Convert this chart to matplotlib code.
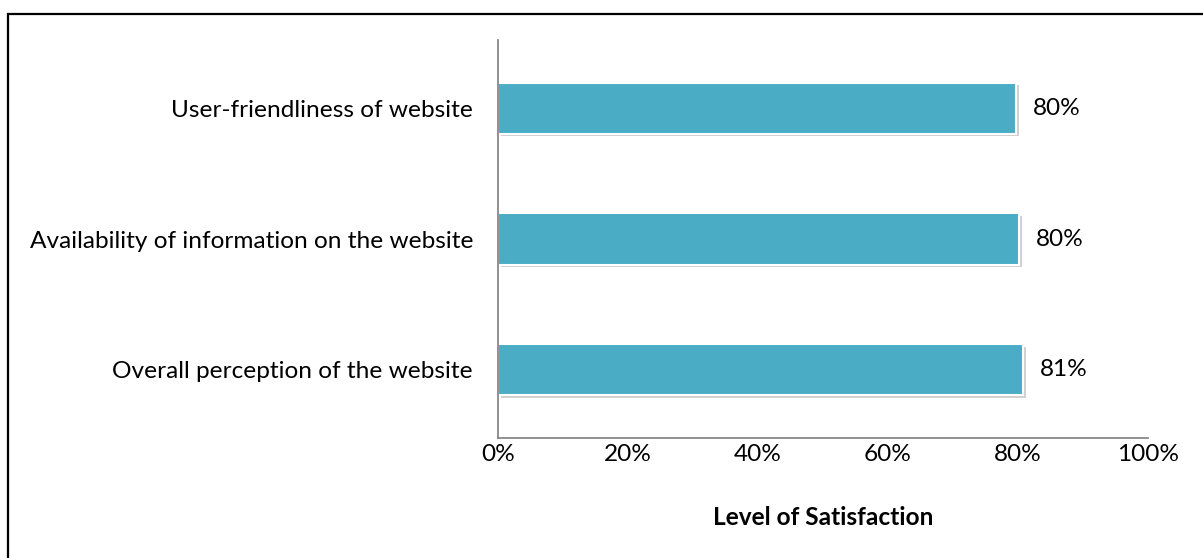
import matplotlib
matplotlib.use('Agg')
import matplotlib.pyplot as plt
import matplotlib.patheffects as pe
from matplotlib.patches import Rectangle
from matplotlib.ticker import FuncFormatter

plt.rcParams['font.family'] = ['Lato', 'DejaVu Sans']

# survey items, bottom to top
categories = ['Overall perception of the website',
              'Availability of information on the website',
              'User-friendliness of website']
satisfaction = [80.8, 80.2, 79.7]
labels = ['81%', '80%', '80%']

fs = 17.6

fig = plt.figure(figsize=(12.03, 5.58), dpi=100)
ax = fig.add_axes([0.414, 0.215, 0.5403, 0.7133])

bars = ax.barh(range(len(categories)), satisfaction, height=0.39,
               color='#4BACC6', edgecolor='white', linewidth=1.5)
for b in bars:
    b.set_path_effects([pe.SimplePatchShadow(offset=(2, -2), shadow_rgbFace='#999999', alpha=0.45),
                        pe.Normal()])

for b, lab in zip(bars, labels):
    ax.text(b.get_width() + 2.6, b.get_y() + b.get_height() / 2, lab,
            va='center', ha='left', fontsize=fs)

ax.set_xlim(0, 100)
ax.set_ylim(-0.52, len(categories) - 0.48)
ax.set_xticks(range(0, 101, 20))
ax.xaxis.set_major_formatter(FuncFormatter(lambda v, p: f'{v:.0f}%'))
ax.set_yticks(range(len(categories)))
ax.set_yticklabels(categories)
ax.tick_params(axis='both', length=0, labelsize=fs, colors='black')
ax.tick_params(axis='x', pad=4)
ax.tick_params(axis='y', pad=18)

for s in ['top', 'right']:
    ax.spines[s].set_visible(False)
for s in ['left', 'bottom']:
    ax.spines[s].set_color('#888888')
    ax.spines[s].set_linewidth(1.3)

ax.set_xlabel('Level of Satisfaction', fontsize=fs, fontweight='bold', labelpad=30)

# outer frame
fig.patches.append(Rectangle((8 / 1203, -0.5), 1.5, 0.5 + (1 - 14 / 558),
                             transform=fig.transFigure, fill=False,
                             edgecolor='black', linewidth=1.6))

fig.savefig('out.png', dpi=100)
